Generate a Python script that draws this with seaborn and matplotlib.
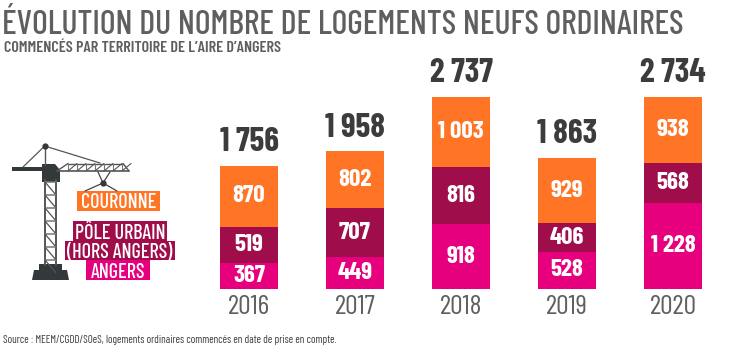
import pandas as pd
import matplotlib
matplotlib.use("Agg")
import matplotlib.pyplot as plt
import seaborn as sns

years = ["2016", "2017", "2018", "2019", "2020"]
angers = [367, 449, 918, 528, 1228]
pole = [519, 707, 816, 406, 568]
couronne = [870, 802, 1003, 929, 938]
totals = ["1 756", "1 958", "2 737", "1 863", "2 734"]

C_ANG = "#e6007e"
C_POLE = "#a00d4b"
C_COUR = "#ff7425"
GREY = "#5f5f5f"
DARK = "#3c3c3c"

sns.set_theme(style="white")
COND = ["Barlow Condensed", "Liberation Sans", "DejaVu Sans"]
plt.rcParams["font.family"] = COND

W, H = 744, 351
fig = plt.figure(figsize=(W / 100, H / 100), dpi=100, facecolor="white")

# bars
ax = fig.add_axes([196 / W, 1 - 289 / H, 530 / W, 197 / H])
df = pd.DataFrame({"year": years, "a": angers, "p": pole, "c": couronne})
df["ap"] = df.a + df.p
df["apc"] = df.ap + df.c
for col, colr in [("apc", C_COUR), ("ap", C_POLE), ("a", C_ANG)]:
    sns.barplot(data=df, x="year", y=col, color=colr, width=0.55, saturation=1, linewidth=0, ax=ax)
ax.set_ylim(0, 2802)
ax.set_xlim(-0.5, 4.5)
ax.set_xlabel("")
ax.set_ylabel("")
ax.set_yticks([])
sns.despine(ax=ax, left=True, bottom=True)
ax.tick_params(axis="x", length=0, pad=4)
for label in ax.get_xticklabels():
    label.set_fontsize(20)
    label.set_color(GREY)


def fmt(v):
    return f"{v:,}".replace(",", " ")


for i in range(len(years)):
    for base, v in [(0, angers[i]), (angers[i], pole[i]), (angers[i] + pole[i], couronne[i])]:
        ax.text(i, base + v / 2, fmt(v), ha="center", va="center", color="white",
                fontsize=18, fontweight="bold")
    ax.text(i, df.apc[i] + 125, totals[i], ha="center", va="bottom", color=DARK,
            fontsize=24, fontweight="bold", clip_on=False)

# overlay in pixels for titles, crane and legend
ov = fig.add_axes([0, 0, 1, 1], facecolor="none")
ov.set_xlim(0, W)
ov.set_ylim(H, 0)
ov.axis("off")

ov.text(2, 34, "ÉVOLUTION DU NOMBRE DE LOGEMENTS NEUFS ORDINAIRES", color=GREY,
        fontsize=24.4, fontweight="medium", ha="left", va="baseline")
ov.text(4, 52.5, "COMMENCÉS PAR TERRITOIRE DE L’AIRE D’ANGERS", color=GREY,
        fontsize=11.6, fontweight="semibold", ha="left", va="baseline")
ov.text(3, 343, "Source : MEEM/CGDD/SOeS, logements ordinaires commencés en date de prise en compte.",
        color=DARK, fontsize=7.9, ha="left", va="baseline")

# crane
CR = "#33383b"
ov.fill([32, 69, 67, 62, 62, 39, 39, 34], [280, 280, 270, 270, 264, 264, 270, 270], color=CR, lw=0)
ov.fill([42, 55, 60, 60, 42], [164, 164, 170, 182, 182], color=CR, lw=0)
ov.fill([12, 44, 44, 12], [167, 167, 171, 171], color=CR, lw=0)
ov.plot([45, 45], [180, 265], color="#555555", lw=1.4)
ov.plot([56, 56], [180, 265], color="#555555", lw=1.4)
for y in range(182, 262, 13):
    ov.plot([45, 56], [y, y], color="#777777", lw=1.1)
    ov.plot([45, 56], [y, y + 13], color="#555555", lw=0.9)
ov.plot([23, 44.7, 100], [167, 146, 163], color="#555555", lw=0.9)
ov.plot([44.7, 44.7], [146, 165], color="#555555", lw=1)
ov.plot([44.7], [146], "o", color=CR, ms=3.5)
ov.plot([68, 123], [163.5, 163.5], color="#555555", lw=1)
ov.plot([57, 129], [171, 171], color="#555555", lw=1.2)
ov.plot([57, 68], [171, 163.5], color="#555555", lw=1)
ov.plot([123, 129], [163.5, 171], color="#555555", lw=1)
for x in range(68, 123, 9):
    ov.plot([x, x], [163.5, 171], color="#777777", lw=0.8)
    ov.plot([x, x + 9], [171, 163.5], color="#555555", lw=0.8)
ov.plot([98, 103, 110], [172, 183, 172], color="#444444", lw=0.9)
ov.plot([85, 103, 117], [191, 183, 191], color="#444444", lw=0.9)
ov.plot([103], [183], "o", color=CR, ms=3.5)

# legend labels
for txt, xmin, xmax, ymin, ymax, colr in [
    ("COURONNE", 77, 160, 191, 210.5, C_COUR),
    ("PÔLE URBAIN", 73, 167, 221, 241, C_POLE),
    ("(HORS ANGERS)", 64.5, 175, 240.5, 260, C_POLE),
    ("ANGERS", 86, 150, 260, 280, C_ANG),
]:
    ov.fill([xmin, xmax, xmax, xmin], [ymin, ymin, ymax, ymax], color=colr, lw=0)
    ov.text((xmin + xmax) / 2, ymax - 2, txt, color="white", fontsize=14.5, fontweight="medium", ha="center", va="baseline")

fig.savefig("out.png", dpi=100)
